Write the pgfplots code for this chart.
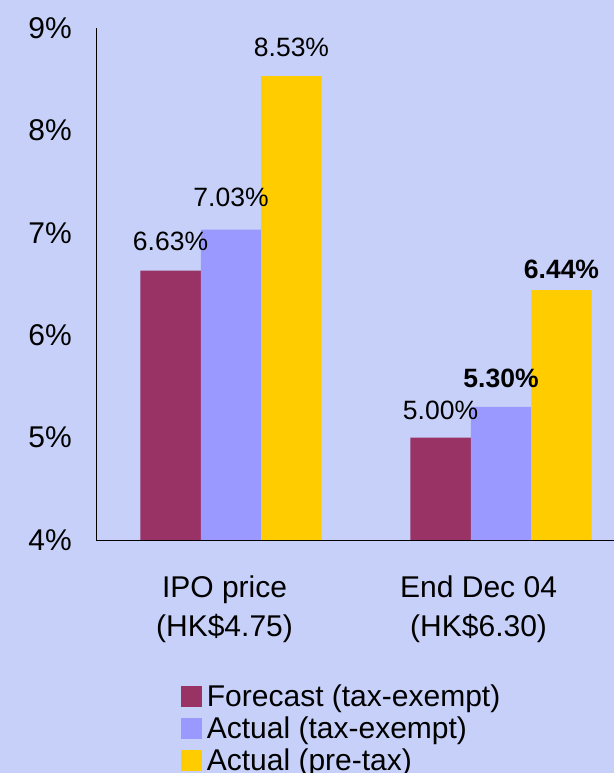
\documentclass[border=0pt]{standalone}
\usepackage{pgfplots}
\pgfplotsset{compat=1.18}
\usepackage{pgfplotstable}
\usepackage{fontspec}
\setmainfont{Liberation Sans}
\definecolor{bg}{RGB}{198,208,248}
\definecolor{c1}{RGB}{153,51,102}
\definecolor{c2}{RGB}{153,153,255}
\definecolor{c3}{RGB}{255,204,0}

\pgfplotstableread{
x y dy lab
0 6.63 20 {6.63\%}
1 5.00 17.5 {5.00\%}
}\fc
\pgfplotstableread{
x y dy lab
0 7.03 22.5 {7.03\%}
1 5.30 18.5 {\textbf{5.30\%}}
}\ac
\pgfplotstableread{
x y dy lab
0 8.53 19.5 {8.53\%}
1 6.44 11.5 {\textbf{6.44\%}}
}\pt

\begin{document}
\begin{tikzpicture}[x=1pt,y=1pt]
\fill[bg] (0,0) rectangle (614,773);
\useasboundingbox (0,0) rectangle (614,773);
\begin{axis}[
  at={(96pt,233pt)}, anchor=south west,
  width=518pt, height=512pt, scale only axis,
  xmin=-0.5, xmax=1.4185, ymin=4, ymax=9,
  axis x line*=bottom, axis y line*=left,
  axis line style={black, line width=0.8pt},
  ytick={4,5,6,7,8,9},
  yticklabels={4\%,5\%,6\%,7\%,8\%,9\%},
  major tick length=0pt,
  tick label style={font=\fontsize{30}{36}\selectfont},
  yticklabel style={inner sep=0pt, xshift=-24pt},
  xtick={-0.024,0.917},
  xticklabels={{IPO price\\(HK\$4.75)},{End Dec 04\\(HK\$6.30)}},
  xticklabel style={align=center, inner sep=0pt, anchor=north, yshift=-36pt, font=\fontsize{30}{39}\selectfont},
  ybar, bar width=0.224,
  point meta=explicit symbolic,
  nodes near coords,
  visualization depends on={\thisrow{dy}\as\dy},
  nodes near coords style={font=\fontsize{26.5}{30}\selectfont, anchor=south, inner sep=0pt, yshift=\dy pt},
  legend style={at={(0.1635,-0.283)}, anchor=north west, draw=none, fill=none, inner sep=0pt, row sep=4pt,
    font=\fontsize{30}{32}\selectfont,
    nodes={inner sep=0pt, text height=21.5pt, text depth=6.5pt},
    /tikz/every odd column/.append style={column sep=5pt}},
  legend cell align=left,
  legend image code/.code={\fill[#1,draw=none] (0pt,-8pt) rectangle (21pt,13pt);},
]
\addplot[fill=c1, draw=none, bar shift=-0.224] table[x=x,y=y,meta=lab]{\fc};
\addplot[fill=c2, draw=none, bar shift=0] table[x=x,y=y,meta=lab]{\ac};
\addplot[fill=c3, draw=none, bar shift=0.224] table[x=x,y=y,meta=lab]{\pt};
\legend{Forecast (tax-exempt),Actual (tax-exempt),Actual (pre-tax)}
\end{axis}
\end{tikzpicture}
\end{document}
